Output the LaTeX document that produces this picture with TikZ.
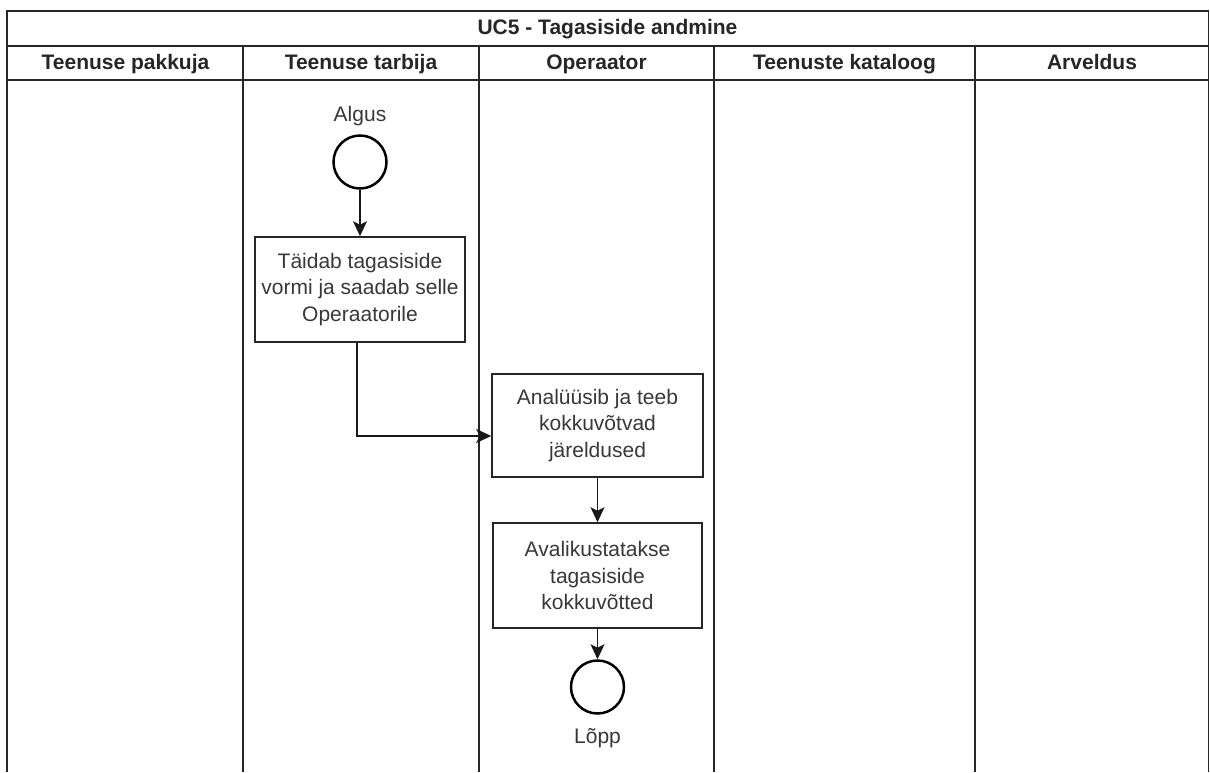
\documentclass[tikz,border=0pt]{standalone}
\usepackage{fontspec}
\setmainfont{Liberation Sans}
\usetikzlibrary{arrows.meta}

\tikzset{
  frame/.style={line width=1.7pt, draw=black!85},
  lanehead/.style={font=\fontsize{21}{24}\selectfont\bfseries, text=black!85, anchor=center,
    inner sep=0pt, text height=15.5pt, text depth=4.5pt},
  stepbox/.style={draw=black!85, line width=1.6pt, fill=white, rectangle, align=center,
    font=\fontsize{21}{26.5}\selectfont, text=black!78, inner sep=0pt},
  event/.style={draw=black, line width=2.5pt, circle, minimum size=53pt, inner sep=0pt, fill=white},
  evlabel/.style={font=\fontsize{21}{24}\selectfont, text=black!78, inner sep=0pt},
  flow/.style={line width=1.6pt, draw=black!90, -{Stealth[length=15pt, width=14pt, inset=3.5pt]}},
}

\begin{document}
\begin{tikzpicture}[x=1pt, y=-1pt]
  \useasboundingbox (0,0) rectangle (1210,772);

  % pool frame, title row and lane header row
  \draw[frame] (7,772) -- (7,11) -- (1208.5,11) -- (1208.5,772);
  \draw[frame] (7,46) -- (1208.5,46);
  \draw[frame] (7,80) -- (1208.5,80);
  \foreach \x in {243,479,714,975}
    \draw[frame] (\x,46) -- (\x,772);

  \node[lanehead] (title) at (607.5,29) {UC5 - Tagasiside andmine};
  \node[lanehead] (lane1) at (125.5,63.5) {Teenuse pakkuja};
  \node[lanehead] (lane2) at (361,63.5) {Teenuse tarbija};
  \node[lanehead] (lane3) at (596.5,63.5) {Operaator};
  \node[lanehead] (lane4) at (844.5,63.5) {Teenuste kataloog};
  \node[lanehead] (lane5) at (1092,63.5) {Arveldus};

  % process steps
  \node[event] (start) at (360,162) {};
  \node[evlabel] (startlbl) at (360,116) {Algus};

  \node[stepbox, minimum width=210pt, minimum height=105pt] (fill) at (360,289.5)
    {Täidab tagasiside\\vormi ja saadab selle\\Operaatorile};

  \node[stepbox, minimum width=211pt, minimum height=103pt] (analyse) at (597.5,425.5)
    {Analüüsib ja teeb\\kokkuvõtvad\\järeldused};

  \node[stepbox, minimum width=209pt, minimum height=105pt] (publish) at (597.5,575.5)
    {Avalikustatakse\\tagasiside\\kokkuvõtted};

  \node[event] (end) at (597.5,687) {};
  \node[evlabel] (endlbl) at (597.5,738) {Lõpp};

  % connectors
  \draw[flow] (start) -- (fill);
  \draw[flow] ([xshift=-3pt]fill.south) |- ([yshift=-10.5pt]analyse.west);
  \draw[flow] (analyse) -- (publish);
  \draw[flow] (publish) -- (end);
\end{tikzpicture}
\end{document}
